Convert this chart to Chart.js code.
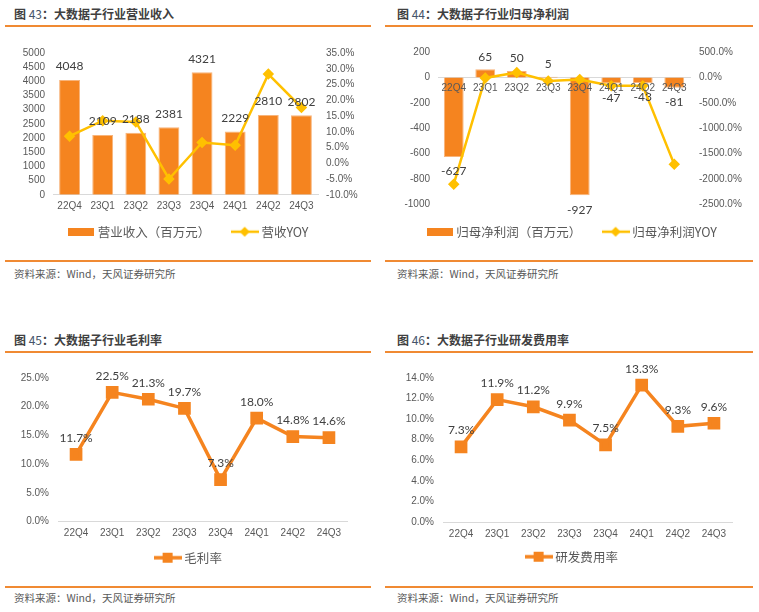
<!DOCTYPE html>
<html>
<head>
<meta charset="utf-8">
<script src="https://cdn.jsdelivr.net/npm/chart.js@4.4.1/dist/chart.umd.min.js"></script>
<style>
  body { margin: 0; background: #fff; width: 759px; height: 612px; position: relative; overflow: hidden; font-family: "Noto Sans CJK SC", sans-serif; }
  .title { position: absolute; font-size: 12px; font-weight: bold; color: #404040; line-height: 14px; white-space: nowrap; }
  .title .num { font-weight: normal; color: #44546a; }
  .rule { position: absolute; height: 1.5px; background: #f08a33; }
  .src { position: absolute; font-size: 10.5px; color: #595959; line-height: 12px; white-space: nowrap; }
  canvas { position: absolute; }
</style>
</head>
<body>
<div class="title" style="left:14px;top:7px">图<span class="num"> 43</span>：大数据子行业营业收入</div>
<div class="rule" style="left:5px;width:366px;top:25px"></div>
<canvas id="rev" width="370" height="209" style="left:0;top:39px"></canvas>
<div class="rule" style="left:5px;width:366px;top:260px"></div>
<div class="src" style="left:14px;top:268px">资料来源：Wind，天风证券研究所</div>

<div class="title" style="left:397px;top:7px">图<span class="num"> 44</span>：大数据子行业归母净利润</div>
<div class="rule" style="left:385px;width:368px;top:25px"></div>
<canvas id="profit" width="370" height="211" style="left:380px;top:37px"></canvas>
<div class="rule" style="left:385px;width:368px;top:260px"></div>
<div class="src" style="left:397px;top:268px">资料来源：Wind，天风证券研究所</div>

<div class="title" style="left:14px;top:333px">图<span class="num"> 45</span>：大数据子行业毛利率</div>
<div class="rule" style="left:5px;width:366px;top:351px"></div>
<canvas id="gross" width="379" height="211" style="left:0;top:363px"></canvas>
<div class="rule" style="left:5px;width:366px;top:586px"></div>
<div class="src" style="left:14px;top:592px">资料来源：Wind，天风证券研究所</div>

<div class="title" style="left:397px;top:333px">图<span class="num"> 46</span>：大数据子行业研发费用率</div>
<div class="rule" style="left:385px;width:368px;top:351px"></div>
<canvas id="rd" width="386" height="210" style="left:380px;top:363px"></canvas>
<div class="rule" style="left:385px;width:368px;top:586px"></div>
<div class="src" style="left:397px;top:592px">资料来源：Wind，天风证券研究所</div>

<script>
const quarters = ['22Q4', '23Q1', '23Q2', '23Q3', '23Q4', '24Q1', '24Q2', '24Q3']
const revenue = [4048, 2109, 2188, 2381, 4321, 2229, 2810, 2802]
const revenueYoy = [8.6, 13.5, 13.1, -5.0, 6.6, 5.7, 28.3, 17.7]
const netProfit = [-627, 65, 50, 5, -927, -47, -43, -81]
const netProfitYoy = [-2100, -10, 95, -70, -40, -165, -165, -1710]
const grossMargin = [11.7, 22.5, 21.3, 19.7, 7.3, 18.0, 14.8, 14.6]
const rdRatio = [7.3, 11.9, 11.2, 9.9, 7.5, 13.3, 9.3, 9.6]

const ORANGE = '#f5841f'
const YELLOW = '#ffc000'

Chart.defaults.font.family = '"Liberation Sans", Arial, sans-serif'
Chart.defaults.font.size = 10
Chart.defaults.color = '#595959'
Chart.defaults.animation = false

// small canvases used as legend symbols
const barSymbol = (color) => {
  const c = document.createElement('canvas')
  c.width = 26; c.height = 8
  const g = c.getContext('2d')
  g.fillStyle = color
  g.fillRect(0, 0, 26, 8)
  return c
}
const lineSymbol = (color, shape) => {
  const c = document.createElement('canvas')
  c.width = 28; c.height = 12
  const g = c.getContext('2d')
  g.strokeStyle = color
  g.fillStyle = color
  g.lineWidth = shape === 'square' ? 3.5 : 2.5
  g.beginPath(); g.moveTo(0, 6); g.lineTo(28, 6); g.stroke()
  g.beginPath()
  if (shape === 'square') {
    g.rect(9, 1, 10, 10)
  } else {
    g.moveTo(14, 1); g.lineTo(19, 6); g.lineTo(14, 11); g.lineTo(9, 6); g.closePath()
  }
  g.fill()
  return c
}

// gap = extra text appended after every item but the last, to widen the spacing
const legendOpts = (symbols, padding, gap) => ({
  position: 'bottom',
  labels: {
    usePointStyle: true,
    pointStyleWidth: 21,
    padding: padding,
    color: '#595959',
    font: { family: '"Noto Sans CJK SC", sans-serif', size: 12.5 },
    generateLabels: (chart) => chart.data.datasets.map((ds, i, all) => ({
      text: i < all.length - 1 ? ds.label + gap : ds.label,
      pointStyle: symbols[i],
      datasetIndex: i,
      fontColor: '#595959',
      lineWidth: 0,
      strokeStyle: 'transparent',
      fillStyle: 'transparent'
    }))
  }
})

// value labels drawn above (or below for negatives) each mark
const valueLabels = {
  id: 'valueLabels',
  afterDatasetsDraw(chart) {
    const ctx = chart.ctx
    chart.data.datasets.forEach((ds, i) => {
      if (!ds.valueText) return
      const meta = chart.getDatasetMeta(i)
      ctx.save()
      ctx.font = '12px Lato, sans-serif'
      ctx.fillStyle = '#404040'
      ctx.textAlign = 'center'
      ctx.textBaseline = 'middle'
      meta.data.forEach((el, j) => {
        const v = ds.data[j]
        const y = v >= 0 ? el.y - ds.gapUp : el.y + ds.gapDown
        ctx.fillText(ds.valueText(v), el.x, y)
      })
      ctx.restore()
    })
  }
}

const fixWidth = (w) => (scale) => { scale.width = w }
const fixHeight = (h) => (scale) => { scale.height = h }
const pct = (v) => v.toFixed(1) + '%'
const plain = (v) => String(v)

// 图43
new Chart(document.getElementById('rev'), {
  type: 'bar',
  data: {
    labels: quarters,
    datasets: [
      {
        label: '营业收入（百万元）', data: revenue, yAxisID: 'y', order: 2,
        backgroundColor: ORANGE, borderColor: '#f8b47a', borderWidth: 1,
        barPercentage: 0.63, categoryPercentage: 1,
        valueText: plain, gapUp: 13.5, gapDown: 14
      },
      {
        type: 'line', label: '营收YOY', data: revenueYoy, yAxisID: 'y1', order: 1,
        borderColor: YELLOW, backgroundColor: YELLOW, borderWidth: 2.5,
        pointStyle: 'rectRot', pointRadius: 4, pointHoverRadius: 4, tension: 0
      }
    ]
  },
  options: {
    responsive: false,
    layout: { padding: { top: 10, left: 9, right: 0, bottom: 0 } },
    plugins: { legend: legendOpts([barSymbol(ORANGE), lineSymbol(YELLOW, 'diamond')], 12, '\u3000  '), tooltip: { enabled: false } },
    scales: {
      x: {
        grid: { display: false, drawTicks: false },
        border: { color: '#d9d9d9' },
        ticks: { padding: 5 },
        afterFit: fixHeight(18.75)
      },
      y: {
        min: 0, max: 5000,
        ticks: { stepSize: 500, padding: 8, autoSkip: false, callback: plain },
        grid: { display: false, drawTicks: false },
        border: { display: false },
        afterFit: fixWidth(44)
      },
      y1: {
        position: 'right', min: -10, max: 35,
        ticks: { stepSize: 5, padding: 8, autoSkip: false, callback: pct },
        grid: { display: false, drawTicks: false },
        border: { display: false },
        afterFit: fixWidth(52)
      }
    }
  },
  plugins: [valueLabels]
})

// 图44
new Chart(document.getElementById('profit'), {
  type: 'bar',
  data: {
    labels: quarters,
    datasets: [
      {
        label: '归母净利润（百万元）', data: netProfit, yAxisID: 'y', order: 2,
        backgroundColor: ORANGE, borderColor: '#f8b47a', borderWidth: 1,
        barPercentage: 0.63, categoryPercentage: 1,
        valueText: plain, gapUp: 12.5, gapDown: 14.5
      },
      {
        type: 'line', label: '归母净利润YOY', data: netProfitYoy, yAxisID: 'y1', order: 1,
        borderColor: YELLOW, backgroundColor: YELLOW, borderWidth: 2.5,
        pointStyle: 'rectRot', pointRadius: 4, pointHoverRadius: 4, tension: 0
      }
    ]
  },
  options: {
    responsive: false,
    layout: { padding: { top: 10, left: 16, right: 0, bottom: 0 } },
    plugins: { legend: legendOpts([barSymbol(ORANGE), lineSymbol(YELLOW, 'diamond')], 21, ' '), tooltip: { enabled: false } },
    scales: {
      x: {
        position: { y: 0 },
        grid: { display: false, drawTicks: false },
        border: { color: '#d9d9d9' },
        ticks: { padding: 5, z: 1 }
      },
      y: {
        min: -1000, max: 200,
        ticks: { stepSize: 200, padding: 8, autoSkip: false, callback: plain },
        grid: { display: false, drawTicks: false },
        border: { display: false },
        afterFit: fixWidth(42)
      },
      y1: {
        position: 'right', min: -2500, max: 500,
        ticks: { stepSize: 500, padding: 9, autoSkip: false, callback: pct },
        grid: { display: false, drawTicks: false },
        border: { display: false },
        afterFit: fixWidth(60)
      }
    }
  },
  plugins: [valueLabels]
})

// spare is an empty right-hand axis; it only moves the centred legend to where the original has it
const rateChart = (id, label, values, max, step, leftW, spare, xH, xPad) => new Chart(document.getElementById(id), {
  type: 'line',
  data: {
    labels: quarters,
    datasets: [{
      label: label, data: values,
      borderColor: ORANGE, backgroundColor: ORANGE, borderWidth: 3.5,
      pointStyle: 'rect', pointRadius: 6.5, pointHoverRadius: 6.5, tension: 0,
      valueText: pct, gapUp: 16.5, gapDown: 16.5
    }]
  },
  options: {
    responsive: false,
    layout: { padding: { top: 10, left: 0, right: 0, bottom: 0 } },
    plugins: { legend: legendOpts([lineSymbol(ORANGE, 'square')], 12, ''), tooltip: { enabled: false } },
    scales: {
      x: {
        offset: true,
        grid: { display: false, drawTicks: false },
        border: { color: '#d9d9d9' },
        ticks: { padding: xPad },
        afterFit: fixHeight(xH)
      },
      y: {
        min: 0, max: max,
        ticks: { stepSize: step, padding: 9, autoSkip: false, callback: pct },
        grid: { display: false, drawTicks: false },
        border: { display: false },
        afterFit: fixWidth(leftW)
      },
      spare: {
        type: 'linear', position: 'right',
        ticks: { display: false },
        grid: { display: false, drawTicks: false },
        border: { display: false },
        afterFit: fixWidth(spare)
      }
    }
  },
  plugins: [valueLabels]
})

// 图45, 图46
rateChart('gross', '毛利率', grossMargin, 25, 5, 58, 32, 18, 6)
rateChart('rd', '研发费用率', rdRatio, 14, 2, 63, 34, 16.5, 6)
</script>
</body>
</html>
